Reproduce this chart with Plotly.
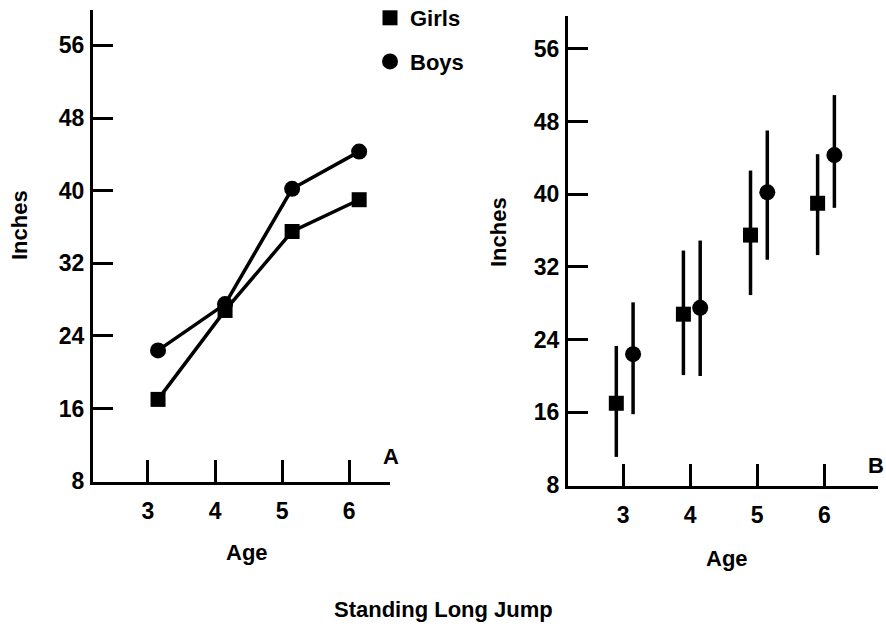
import plotly.graph_objects as go

# Standing long jump by age (inches)
ages = [3, 4, 5, 6]
girls_mean = [17.0, 26.8, 35.5, 39.0]
boys_mean = [22.4, 27.5, 40.2, 44.3]
girls_low = [11.1, 20.1, 28.9, 33.3]
girls_high = [23.3, 33.8, 42.6, 44.4]
boys_low = [15.8, 20.0, 32.8, 38.5]
boys_high = [28.1, 34.9, 47.0, 50.9]
y_ticks = [8, 16, 24, 32, 40, 48, 56]

W, H = 886, 626
FONT = "Liberation Sans"
INK = "black"


def px(x):
    return x / W


def py(y):
    return 1 - y / H


fig = go.Figure()

# Panel A: means joined by lines, markers nudged right of the age ticks
fig.add_trace(go.Scatter(
    x=[a + 0.15 for a in ages], y=girls_mean, mode="lines+markers",
    line=dict(color=INK, width=3.5),
    marker=dict(symbol="square", size=15, color=INK),
    xaxis="x", yaxis="y", showlegend=False))
fig.add_trace(go.Scatter(
    x=[a + 0.15 for a in ages], y=boys_mean, mode="lines+markers",
    line=dict(color=INK, width=3.5),
    marker=dict(symbol="circle", size=16, color=INK),
    xaxis="x", yaxis="y", showlegend=False))

# Panel B: means with range bars, girls left and boys right of each tick
fig.add_trace(go.Scatter(
    x=[a - 0.1 for a in ages], y=girls_mean, mode="markers", name="Girls",
    marker=dict(symbol="square", size=15, color=INK),
    error_y=dict(type="data", symmetric=False,
                 array=[h - m for h, m in zip(girls_high, girls_mean)],
                 arrayminus=[m - l for m, l in zip(girls_mean, girls_low)],
                 color=INK, thickness=3.5, width=0),
    xaxis="x2", yaxis="y2", legendgroup="g", showlegend=True))
fig.add_trace(go.Scatter(
    x=[a + 0.15 for a in ages], y=boys_mean, mode="markers", name="Boys",
    marker=dict(symbol="circle", size=16, color=INK),
    error_y=dict(type="data", symmetric=False,
                 array=[h - m for h, m in zip(boys_high, boys_mean)],
                 arrayminus=[m - l for m, l in zip(boys_mean, boys_low)],
                 color=INK, thickness=3.5, width=0),
    xaxis="x2", yaxis="y2", legendgroup="b", showlegend=True))

tick_font = dict(family=FONT, size=23, color=INK, weight="bold")
common_x = dict(
    tickvals=ages, ticktext=[str(a) for a in ages],
    showline=True, linecolor=INK, linewidth=3,
    ticks="inside", ticklen=22, tickwidth=3, tickcolor=INK,
    tickfont=tick_font, ticklabelstandoff=6, automargin=False,
    showgrid=False, zeroline=False, fixedrange=True)
common_y = dict(
    tickvals=y_ticks, ticktext=[str(v) for v in y_ticks],
    showline=True, linecolor=INK, linewidth=3,
    ticks="inside", ticklen=20, tickwidth=3, tickcolor=INK,
    tickfont=tick_font, ticklabelstandoff=1, automargin=False,
    showgrid=False, zeroline=False, fixedrange=True)

fig.update_layout(
    width=W, height=H,
    margin=dict(l=0, r=0, t=0, b=0, autoexpand=False),
    paper_bgcolor="white", plot_bgcolor="white",
    font=dict(family=FONT, size=22, color=INK, weight="bold"),
    xaxis=dict(common_x, domain=[px(93), px(390)], range=[2.18, 6.61], anchor="y"),
    yaxis=dict(common_y, domain=[py(482), py(10)], range=[7.9, 59.9], anchor="x"),
    xaxis2=dict(common_x, domain=[px(568), px(878)], range=[2.18, 6.8], anchor="y2"),
    yaxis2=dict(common_y, domain=[py(486), py(16)], range=[7.9, 59.6], anchor="x2"),
    legend=dict(x=px(370), y=py(-3), xanchor="left", yanchor="top",
                traceorder="grouped", tracegroupgap=12,
                font=dict(family=FONT, size=22, color=INK, weight="bold"),
                bgcolor="rgba(0,0,0,0)", itemwidth=30),
)

title_font = dict(family=FONT, size=22, color=INK, weight="bold")
notes = [
    ("Inches", 20, 225, -90),
    ("Inches", 499, 232, -90),
    ("Age", 247, 552, 0),
    ("Age", 727, 558, 0),
    ("A", 391, 456, 0),
    ("B", 876, 465, 0),
    ("Standing Long Jump", 443, 609, 0),
]
for text, x, y, ang in notes:
    fig.add_annotation(text=text, x=px(x), y=py(y), xref="paper", yref="paper",
                       xanchor="center", yanchor="middle", showarrow=False,
                       textangle=ang, font=title_font)

fig.write_html("out.html")
